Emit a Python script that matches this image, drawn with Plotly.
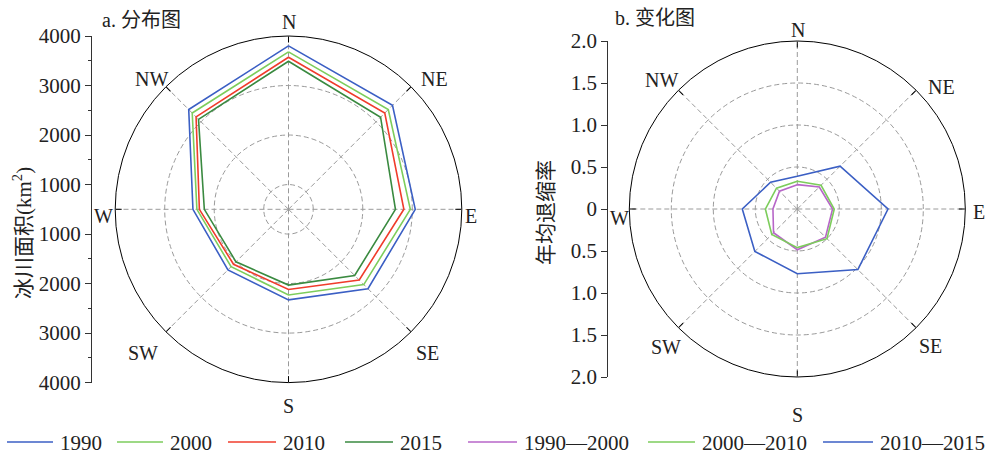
import plotly.graph_objects as go

W, H = 993, 456

directions = ["N", "NE", "E", "SE", "S", "SW", "W", "NW"]

# Glacier area by aspect (km²)
area_1990 = [3800, 3470, 3060, 2770, 2330, 2230, 2430, 3350]
area_2000 = [3680, 3350, 2960, 2650, 2230, 2140, 2350, 3250]
area_2010 = [3570, 3250, 2830, 2520, 2120, 2070, 2300, 3140]
area_2015 = [3490, 3130, 2660, 2390, 2030, 2000, 2200, 3070]

# Mean annual retreat rate by aspect
rate_1990_2000 = [0.29, 0.37, 0.42, 0.475, 0.485, 0.40, 0.29, 0.30]
rate_2000_2010 = [0.33, 0.40, 0.44, 0.50, 0.46, 0.43, 0.38, 0.35]
rate_2010_2015 = [0.39, 0.72, 1.08, 1.02, 0.77, 0.715, 0.655, 0.45]

# Axis scales
area_center = 500
area_max = 4000
area_ticks = [1000, 2000, 3000, 4000]
area_minor = [1500, 2500, 3500]
rate_max = 2.0
rate_ticks = [0.5, 1.0, 1.5, 2.0]
rate_ticks_all = [0, 0.5, 1.0, 1.5, 2.0]

BLUE = "#3b5fc4"
LGREEN = "#7dcd5c"
RED = "#f03c2c"
DGREEN = "#3a8a40"
PURPLE = "#b766c8"

area_series = [("1990", area_1990, BLUE), ("2000", area_2000, LGREEN),
               ("2010", area_2010, RED), ("2015", area_2015, DGREEN)]
rate_series = [("1990—2000", rate_1990_2000, PURPLE),
               ("2000—2010", rate_2000_2010, LGREEN),
               ("2010—2015", rate_2010_2015, BLUE)]

SERIF = "Liberation Serif, Times New Roman, Noto Sans CJK SC, serif"
MIXED = "Liberation Serif, Noto Sans CJK SC, serif"
GRID = "#9a9a9a"
DASH = "5px,3px"

# polar panel geometry (pixels)
LC, LR = (288.5, 209.3), 173.3
RC, RR = (797.3, 209.0), 168.0
LAXIS_X, RAXIS_X = 91.0, 607.3


def px_x(x):
    return x / W


def px_y(y):
    return 1 - y / H


def domain(center, radius):
    cx, cy = center
    return dict(x=[px_x(cx - radius), px_x(cx + radius)],
                y=[px_y(cy + radius), px_y(cy - radius)])


def closed(vals):
    return list(vals) + [vals[0]]


fig = go.Figure()

for name, vals, color in area_series:
    fig.add_trace(go.Scatterpolar(
        r=closed(vals), theta=closed(directions), mode="lines", name=name,
        line=dict(color=color, width=1.6), subplot="polar", showlegend=False))

for name, vals, color in rate_series:
    fig.add_trace(go.Scatterpolar(
        r=closed(vals), theta=closed(directions), mode="lines", name=name,
        line=dict(color=color, width=1.6), subplot="polar2", showlegend=False))

# empty traces that host the vertical scale bars
fig.add_trace(go.Scatter(x=[], y=[], xaxis="x", yaxis="y", showlegend=False))
fig.add_trace(go.Scatter(x=[], y=[], xaxis="x2", yaxis="y2", showlegend=False))


def angular(linew=1.0):
    return dict(type="category", categoryarray=directions,
                direction="clockwise", rotation=90,
                showticklabels=False, ticks="inside", ticklen=6,
                tickcolor="black", tickwidth=1,
                showline=True, linecolor="black", linewidth=linew,
                showgrid=True, gridcolor=GRID, gridwidth=1, griddash=DASH)


fig.update_layout(
    polar=dict(
        domain=domain(LC, LR), bgcolor="white",
        radialaxis=dict(range=[area_center, area_max], tickvals=area_ticks[:-1],
                        showticklabels=False, ticks="", showline=False,
                        gridcolor=GRID, gridwidth=1, griddash=DASH),
        angularaxis=angular()),
    polar2=dict(
        domain=domain(RC, RR), bgcolor="white",
        radialaxis=dict(range=[0, rate_max], tickvals=rate_ticks[:-1],
                        showticklabels=False, ticks="", showline=False,
                        gridcolor=GRID, gridwidth=1, griddash=DASH),
        angularaxis=angular()),
)

# vertical scale bars mirrored about each pole
area_off = [v - area_center for v in area_ticks]
area_vals = area_off[::-1] + [-v for v in area_off]
area_text = [str(v) for v in area_ticks[::-1]] + [str(v) for v in area_ticks]
area_minor_vals = [v - area_center for v in area_minor] + [-(v - area_center) for v in area_minor]

rate_vals = rate_ticks_all[::-1] + [-v for v in rate_ticks_all[1:]]
rate_text = ["0" if v == 0 else f"{v:.1f}" for v in rate_ticks_all[::-1]] + \
            [f"{v:.1f}" for v in rate_ticks_all[1:]]

axis_common = dict(showgrid=False, zeroline=False, showline=True,
                   linecolor="#333333", linewidth=1.3, ticks="outside",
                   ticklen=6, tickwidth=1.3, tickcolor="#333333",
                   tickfont=dict(family=SERIF, size=21, color="#222222"),
                   anchor="free", fixedrange=True, automargin=False)

fig.update_layout(
    xaxis=dict(domain=[px_x(LAXIS_X), px_x(LAXIS_X) + 0.001], visible=False, automargin=False),
    yaxis=dict(domain=domain(LC, LR)["y"], range=[-(area_max - area_center), area_max - area_center],
               tickvals=area_vals, ticktext=area_text, position=px_x(LAXIS_X),
               minor=dict(tickvals=area_minor_vals, ticks="outside", ticklen=3,
                          tickcolor="#333333", tickwidth=1.2),
               **axis_common),
    xaxis2=dict(domain=[px_x(RAXIS_X), px_x(RAXIS_X) + 0.001], visible=False, automargin=False),
    yaxis2=dict(domain=domain(RC, RR)["y"], range=[-rate_max, rate_max],
                tickvals=rate_vals, ticktext=rate_text, position=px_x(RAXIS_X),
                **axis_common),
)

annotations = []


def text(x, y, s, size=20, angle=0, xanchor="center", family=SERIF):
    annotations.append(dict(x=px_x(x), y=px_y(y), xref="paper", yref="paper",
                            text=s, showarrow=False, textangle=angle,
                            xanchor=xanchor, yanchor="middle",
                            font=dict(family=family, size=size, color="#222222")))


# compass labels
left_labels = {"N": (289, 22), "NE": (434, 79), "E": (471, 216), "SE": (427, 353),
               "S": (288, 406), "SW": (143, 353), "W": (103, 216), "NW": (151, 79)}
right_labels = {"N": (798, 30), "NE": (941, 87), "E": (979, 212), "SE": (930, 346),
                "S": (797, 415), "SW": (666, 347), "W": (619, 218), "NW": (661, 80)}
for d in directions:
    text(*left_labels[d], d)
    text(*right_labels[d], d)

# panel titles and axis titles
text(100, 20, "a. 分布图", size=20, xanchor="left", family=MIXED)
text(613, 18, "b. 变化图", size=20, xanchor="left", family=MIXED)
text(22, 233, "冰川面积(km<sup>2</sup>)", size=21, angle=-90, family=MIXED)
text(546, 213, "年均退缩率", size=21, angle=-90, family=MIXED)

# legend row
legend_pos = [(7, 53), (117, 163), (228, 276), (345, 393), (468, 517), (648, 695), (823, 873)]
shapes = []
LEG_Y = 442
for (name, _, color), (x0, x1) in zip(area_series + rate_series, legend_pos):
    shapes.append(dict(type="line", xref="paper", yref="paper",
                       x0=px_x(x0), x1=px_x(x1), y0=px_y(LEG_Y), y1=px_y(LEG_Y),
                       line=dict(color=color, width=1.6)))
    text(x1 + 5, LEG_Y + 1, name, size=21, xanchor="left")

fig.update_layout(
    width=W, height=H, margin=dict(l=0, r=0, t=0, b=0),
    paper_bgcolor="white", plot_bgcolor="white",
    showlegend=False, annotations=annotations, shapes=shapes,
)

fig.write_html("out.html")
